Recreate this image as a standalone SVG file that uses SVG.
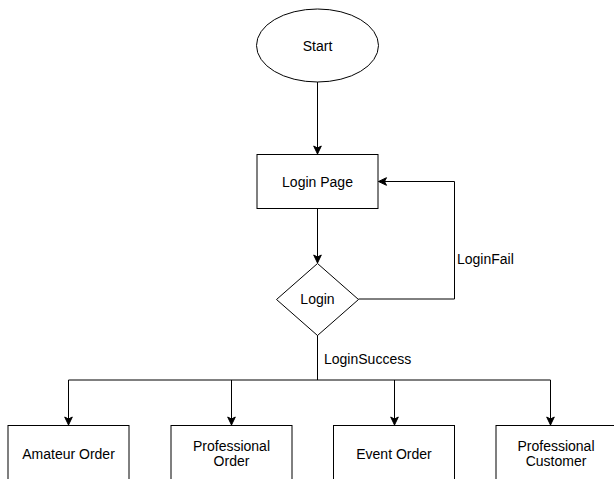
<svg xmlns="http://www.w3.org/2000/svg" width="614" height="479" viewBox="0 0 614 479">
<style>
.s{fill:#fff;stroke:#000;stroke-width:1}
.c{fill:none;stroke:#000;stroke-width:1}
text{font-family:"Liberation Sans",Arial,sans-serif;font-size:14px;fill:#000}
.m{text-anchor:middle}
</style>
<defs>
<marker id="a" markerUnits="userSpaceOnUse" markerWidth="10" markerHeight="10" refX="9" refY="5" orient="auto">
<path d="M1,1.2 L9,5 L1,8.8 L3,5 z" fill="#000" stroke="#000" stroke-width="1"/>
</marker>
</defs>
<rect width="614" height="479" fill="#fff"/>
<g id="connectors">
<path class="c" d="M317.5,82 V154" marker-end="url(#a)"/>
<path class="c" d="M317.5,208 V263" marker-end="url(#a)"/>
<path class="c" d="M358.5,299 H454.5 V181.5 H378.5" marker-end="url(#a)"/>
<path class="c" d="M317.5,335 V380"/>
<path class="c" d="M68.5,380 H550.5"/>
<path class="c" d="M68.5,380 V425" marker-end="url(#a)"/>
<path class="c" d="M231.5,380 V425" marker-end="url(#a)"/>
<path class="c" d="M394.5,380 V425" marker-end="url(#a)"/>
<path class="c" d="M550.5,380 V425" marker-end="url(#a)"/>
<text x="457" y="264">LoginFail</text>
<text x="324" y="364">LoginSuccess</text>
</g>
<g id="start">
<ellipse class="s" cx="317.5" cy="45.5" rx="61" ry="36.5"/>
<text class="m" x="317.5" y="51">Start</text>
</g>
<g id="loginPage">
<rect class="s" x="257" y="154.5" width="121" height="54"/>
<text class="m" x="317.5" y="187">Login Page</text>
</g>
<g id="login">
<path class="s" d="M317.5,263.5 L358.5,299.5 L317.5,335.5 L276.5,299.5 z"/>
<text class="m" x="317.5" y="304">Login</text>
</g>
<g id="amateurOrder">
<rect class="s" x="8" y="425.5" width="121" height="60"/>
<text class="m" x="68.5" y="459">Amateur Order</text>
</g>
<g id="professionalOrder">
<rect class="s" x="171" y="425.5" width="121" height="60"/>
<text class="m" x="231.5" y="451">Professional</text>
<text class="m" x="231.5" y="466">Order</text>
</g>
<g id="eventOrder">
<rect class="s" x="333.5" y="425.5" width="121" height="60"/>
<text class="m" x="394" y="459">Event Order</text>
</g>
<g id="professionalCustomer">
<rect class="s" x="496" y="425.5" width="121" height="60"/>
<text class="m" x="556" y="451">Professional</text>
<text class="m" x="556" y="466">Customer</text>
</g>
</svg>
